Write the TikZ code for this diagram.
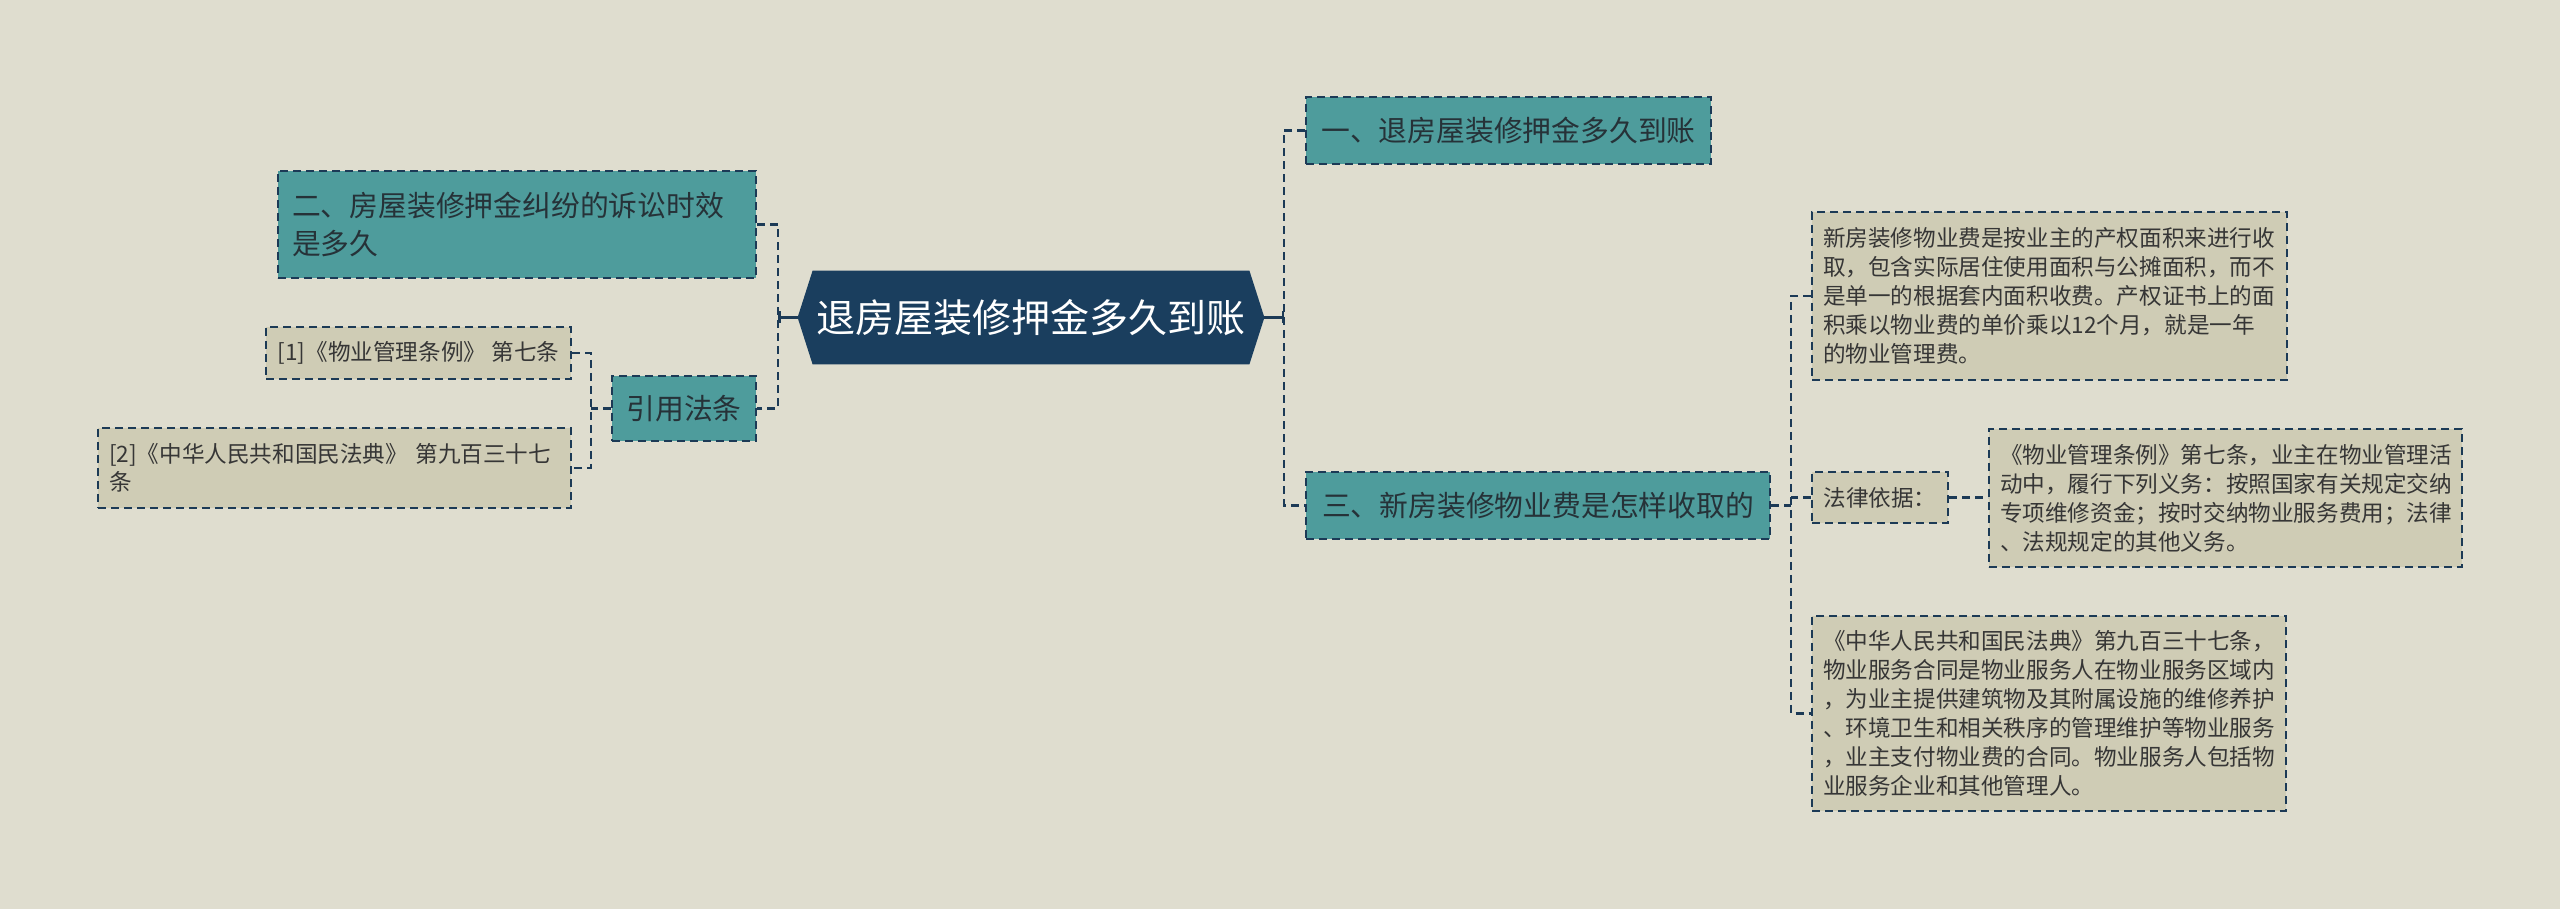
\documentclass[tikz,border=0pt]{standalone}
\usepackage{fontspec}
\setmainfont{Noto Sans CJK SC}
\usepackage{xcolor}
\usepackage{tikz}
\usetikzlibrary{arrows.meta, positioning}
\usetikzlibrary{backgrounds}
\definecolor{paper}{HTML}{DFDDCF}
\definecolor{rootblue}{HTML}{1A3E5E}
\definecolor{lineblue}{HTML}{1C3A56}
\definecolor{topicteal}{HTML}{4E9C9C}
\definecolor{leafsand}{HTML}{CFCCB5}
\definecolor{topicink}{HTML}{263238}
\definecolor{leafink}{HTML}{363636}

\begin{document}
\begin{tikzpicture}[x=0.5pt, y=0.5pt,
        every node/.style={inner sep=0pt},
        rootnode/.style={text=white, font=\fontsize{19.5}{23}\selectfont,
            minimum width=233pt, minimum height=46.5pt},
        topic/.style={draw=lineblue, fill=topicteal, text=topicink,
            line width=1pt, dash pattern=on 4pt off 2.5pt,
            inner xsep=7pt, align=left, font=\fontsize{14.4}{18.8}\selectfont},
        leaf/.style={draw=lineblue, fill=leafsand, text=leafink,
            line width=1pt, dash pattern=on 4pt off 2.5pt,
            inner xsep=5.5pt, align=left, font=\fontsize{11.3}{14.5}\selectfont},
        link/.style={draw=lineblue, line width=1.25pt, dash pattern=on 4pt off 2.5pt},
        stub/.style={draw=lineblue, line width=1.25pt, -{Bar[width=6pt]}},
        >=Stealth]
        \useasboundingbox (0,0) rectangle (2560,909);
        % centre
        \node[rootnode] (root) at (1031,591.5) {退房屋装修押金多久到账};
        \begin{scope}[on background layer]
            \fill[paper] (0,0) rectangle (2560,909);
            \fill[rootblue] ([xshift=7.5pt]root.north west) -- ([xshift=-7.5pt]root.north east)
                -- (root.east) -- ([xshift=-7.5pt]root.south east)
                -- ([xshift=7.5pt]root.south west) -- (root.west) -- cycle;
        \end{scope}
        % right side
        \node[topic, minimum width=202.5pt, minimum height=33.5pt] (one) at (1508.5,778.5) {一、退房屋装修押金多久到账};
        \node[topic, minimum width=232pt, minimum height=33.5pt] (three) at (1538,403.5) {三、新房装修物业费是怎样收取的};
        \node[leaf, text width=226.5pt, minimum height=84pt] (fee) at (2049.5,613) {新房装修物业费是按业主的产权面积来进行收\\取，包含实际居住使用面积与公摊面积，而不\\是单一的根据套内面积收费。产权证书上的面\\积乘以物业费的单价乘以12个月，就是一年\\的物业管理费。};
        \node[leaf, minimum width=68pt, minimum height=25.5pt] (law) at (1880,411.5) {法律依据：};
        \node[leaf, text width=225.5pt, minimum height=69pt] (rule) at (2225.5,411) {《物业管理条例》第七条，业主在物业管理活\\动中，履行下列义务：按照国家有关规定交纳\\专项维修资金；按时交纳物业服务费用；法律\\、法规规定的其他义务。};
        \node[leaf, text width=226pt, minimum height=97.5pt] (code) at (2049,195.5) {《中华人民共和国民法典》第九百三十七条，\\物业服务合同是物业服务人在物业服务区域内\\，为业主提供建筑物及其附属设施的维修养护\\、环境卫生和相关秩序的管理维护等物业服务\\，业主支付物业费的合同。物业服务人包括物\\业服务企业和其他管理人。};
        % left side
        \node[topic, text width=225pt, minimum height=53.5pt] (two) at (517,684.5) {二、房屋装修押金纠纷的诉讼时效\\是多久};
        \node[topic, minimum width=72pt, minimum height=32.5pt] (cite) at (684,500.5) {引用法条};
        \node[leaf, minimum width=152.5pt, minimum height=26pt] (ref1) at (418.5,556) {[1]《物业管理条例》 第七条};
        \node[leaf, text width=225.5pt, minimum height=40pt, font=\fontsize{11.3}{14}\selectfont] (ref2) at (334.5,441) {[2]《中华人民共和国民法典》 第九百三十七\\条};
        % joints
        \coordinate (rs) at (1284,591.5);
        \coordinate (ls) at (778,591.5);
        \coordinate (fs) at (591,500.5);
        \coordinate (cs) at (1791,403.5);
        \draw[stub] (root.east) -- (rs);
        \draw[stub] (root.west) -- (ls);
        \draw[link] (one.west) -| (rs) |- (three.west);
        \draw[link] (two.east) -| (ls) |- (cite.east);
        \draw[link] (cite.west) -- (fs);
        \draw[link] (ref1.east) -| (fs) |- (ref2.east);
        \draw[link] (three.east) -- (cs);
        \draw[link] (fee.west) -| (cs) |- (code.west);
        \draw[link] (law.west) -- (law.west -| cs);
        \draw[link] (law.east) -- (law.east -| rule.west);
    \end{tikzpicture}
\end{document}
